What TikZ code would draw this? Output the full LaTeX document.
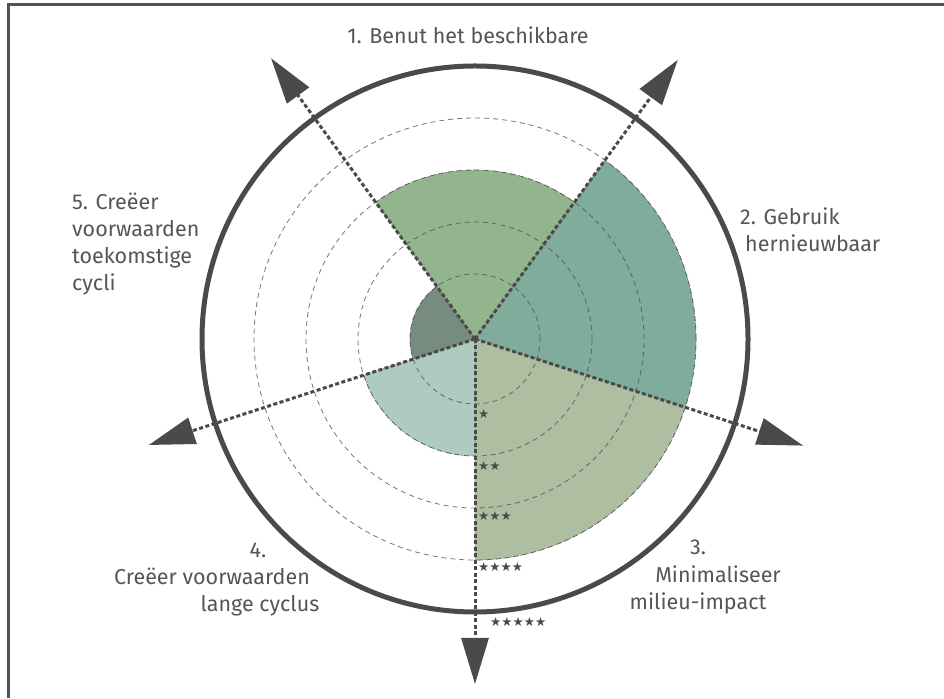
\documentclass[tikz,border=0pt]{standalone}
\usepackage{fontspec}
\setmainfont{Fira Sans}
\newfontfamily\symfont{DejaVu Sans}
\usetikzlibrary{arrows.meta}
\definecolor{cA}{HTML}{93B58E}
\definecolor{cB}{HTML}{80AC9C}
\definecolor{cC}{HTML}{ADBFA0}
\definecolor{cD}{HTML}{ADCBBF}
\definecolor{cE}{HTML}{778C80}
\definecolor{ink}{HTML}{4A4A4A}
\definecolor{txt}{HTML}{555555}
\tikzset{
  sector/.style={draw=ink!70, line width=0.6pt, dash pattern=on 2pt off 1.5pt},
  ring/.style={draw=ink, line width=0.8pt, dash pattern=on 5pt off 4pt, opacity=0.75},
  ray/.style={draw=ink, line width=3pt, dash pattern=on 4pt off 2.5pt,
    -{Triangle[length=46pt,width=27pt]}},
  outer/.style={draw=ink, line width=5pt},
  frame/.style={draw=ink!95, line width=3pt},
  lbl/.style={text=txt, font=\fontsize{21.5}{26}\selectfont, inner sep=0pt},
  stars/.style={text=ink, font=\symfont\fontsize{12.5}{14}\selectfont, inner sep=0pt, anchor=base west}
}
\begin{document}
\begin{tikzpicture}[x=1pt,y=1pt]
\useasboundingbox (0,0) rectangle (944,698);
\fill[white] (0,0) rectangle (944,698);
\draw[frame] (8,0) -- (8,693) -- (944,693);
\coordinate (C) at (475,359);
% sectors
\filldraw[sector, fill=cA] (C) -- ([shift={(126:169pt)}]C) arc[start angle=126, end angle=54, radius=169pt] -- cycle;
\filldraw[sector, fill=cB] (C) -- ([shift={(54:221pt)}]C) arc[start angle=54, end angle=-18, radius=221pt] -- cycle;
\filldraw[sector, fill=cC] (C) -- ([shift={(-18:221pt)}]C) arc[start angle=-18, end angle=-90, radius=221pt] -- cycle;
\filldraw[sector, fill=cD] (C) -- ([shift={(-90:117pt)}]C) arc[start angle=-90, end angle=-162, radius=117pt] -- cycle;
\filldraw[sector, fill=cE] (C) -- ([shift={(198:65pt)}]C) arc[start angle=198, end angle=126, radius=65pt] -- cycle;
% rings
\draw[ring] (C) circle[radius=65pt];
\draw[ring] (C) circle[radius=117pt];
\draw[ring] (C) circle[radius=169pt];
\draw[ring] (C) circle[radius=221pt];
% outer circle
\draw[outer] (C) circle[radius=273pt];
% rays
\coordinate (a1) at ([shift={(126:347pt)}]C);
\coordinate (a2) at ([shift={(54:345pt)}]C);
\coordinate (a3) at ([shift={(-18:345pt)}]C);
\coordinate (a4) at ([shift={(-90:345pt)}]C);
\coordinate (a5) at ([shift={(198:343pt)}]C);
\draw[ray] (C) -- (a1);
\draw[ray] (C) -- (a2);
\draw[ray] (C) -- (a3);
\draw[ray] (C) -- (a4);
\draw[ray] (C) -- (a5);
% stars
\node[stars] (s1) at (478,279) {★};
\node[stars] (s2) at (478,227) {★★};
\node[stars] (s3) at (478,177) {★★★};
\node[stars] (s4) at (478,126) {★★★★};
\node[stars] (s5) at (490,71) {★★★★★};
% labels
\node[lbl, anchor=base] (l1) at (468,654) {1. Benut het beschikbare};
\node[lbl, anchor=base west] (l2a) at (740,473) {2. Gebruik};
\node[lbl, anchor=base west] (l2b) at (745,446) {hernieuwbaar};
\node[lbl, anchor=base] (l3a) at (698,143) {3.};
\node[lbl, anchor=base] (l3b) at (718,115) {Minimaliseer};
\node[lbl, anchor=base] (l3c) at (698,88) {milieu-impact};
\node[lbl, anchor=base] (l4a) at (258,140) {4.};
\node[lbl, anchor=base] (l4b) at (212,113) {Creëer voorwaarden};
\node[lbl, anchor=base] (l4c) at (260,86) {lange cyclus};
\node[lbl, anchor=base west] (l5a) at (72,488) {5. Creëer};
\node[lbl, anchor=base west] (l5b) at (72,461) {voorwaarden};
\node[lbl, anchor=base west] (l5c) at (72,434) {toekomstige};
\node[lbl, anchor=base west] (l5d) at (72,407) {cycli};
\end{tikzpicture}
\end{document}
